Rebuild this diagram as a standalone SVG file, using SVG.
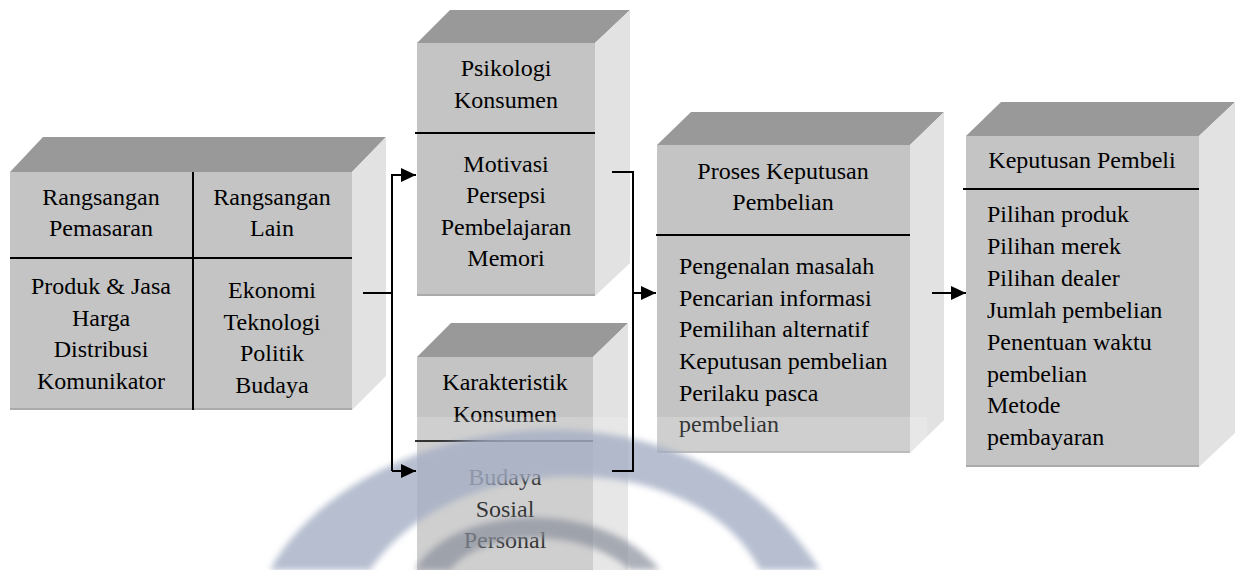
<svg xmlns="http://www.w3.org/2000/svg" width="1241" height="570" viewBox="0 0 1241 570">
<style>
.front{fill:#c4c4c4}
.top{fill:#999999}
.side{fill:#e2e2e2}
.edge{stroke:#aaaaaa;stroke-width:2}
.t{font-size:24px;fill:#000}
.c{text-anchor:middle}
.dv{stroke:#000;stroke-width:2}
.conn{stroke:#000;stroke-width:2;fill:none}
</style>
<defs>
<marker id="arr" viewBox="0 0 15 14" refX="15" refY="7" markerWidth="15" markerHeight="14" markerUnits="userSpaceOnUse" orient="auto">
<path d="M0,0 L15,7 L0,14 z" fill="#000"/>
</marker>
<clipPath id="wmclip"><rect x="193" y="417" width="734" height="153"/></clipPath>
<filter id="soft" x="-20%" y="-20%" width="140%" height="140%"><feGaussianBlur stdDeviation="3"/></filter>
</defs>
<rect width="1241" height="570" fill="#fff"/>

<g font-family="Liberation Serif, Tinos, Times New Roman, DejaVu Serif, serif">
<g id="rangsangan">
<polygon class="top" points="10,172 43,137 386,137 352,172"/>
<polygon class="side" points="352,172 386,137 386,376 352,410"/>
<rect class="front" x="10" y="172" width="342" height="238"/>
<line class="edge" x1="10" y1="409" x2="352" y2="409"/>
<line class="dv" x1="193" y1="172" x2="193" y2="410"/>
<line class="dv" x1="10" y1="258" x2="352" y2="258"/>
<text class="t c" x="101" y="205">Rangsangan</text>
<text class="t c" x="101" y="236">Pemasaran</text>
<text class="t c" x="272" y="205">Rangsangan</text>
<text class="t c" x="272" y="236">Lain</text>
<text class="t c" x="101" y="294">Produk &amp; Jasa</text>
<text class="t c" x="101" y="326">Harga</text>
<text class="t c" x="101" y="357">Distribusi</text>
<text class="t c" x="101" y="389">Komunikator</text>
<text class="t c" x="272" y="298">Ekonomi</text>
<text class="t c" x="272" y="330">Teknologi</text>
<text class="t c" x="272" y="361">Politik</text>
<text class="t c" x="272" y="393">Budaya</text>
</g>

<g id="psikologi">
<polygon class="top" points="417,43 450,10 630,10 595,43"/>
<polygon class="side" points="595,43 630,10 630,263 595,296"/>
<rect class="front" x="417" y="43" width="178" height="253"/>
<line class="edge" x1="417" y1="295" x2="595" y2="295"/>
<line class="dv" x1="415" y1="133" x2="595" y2="133"/>
<text class="t c" x="506" y="76">Psikologi</text>
<text class="t c" x="506" y="108">Konsumen</text>
<text class="t c" x="506" y="172">Motivasi</text>
<text class="t c" x="506" y="203">Persepsi</text>
<text class="t c" x="506" y="235">Pembelajaran</text>
<text class="t c" x="506" y="266">Memori</text>
</g>

<g id="karakteristik">
<polygon class="top" points="417,357 451,323 628,323 593,357"/>
<polygon class="side" points="593,357 628,323 628,580 593,580"/>
<rect class="front" x="417" y="357" width="176" height="223"/>
<line class="dv" x1="415" y1="441" x2="593" y2="441"/>
<text class="t c" x="505" y="390">Karakteristik</text>
<text class="t c" x="505" y="422">Konsumen</text>
<text class="t c" x="505" y="485">Budaya</text>
<text class="t c" x="505" y="517">Sosial</text>
<text class="t c" x="505" y="548">Personal</text>
</g>

<g id="proses">
<polygon class="top" points="657,145 691,112 944,112 910,145"/>
<polygon class="side" points="910,145 944,112 944,420 910,453"/>
<rect class="front" x="657" y="145" width="253" height="308"/>
<line class="edge" x1="657" y1="452" x2="910" y2="452"/>
<line class="dv" x1="656" y1="235" x2="910" y2="235"/>
<text class="t c" x="783" y="179">Proses Keputusan</text>
<text class="t c" x="783" y="210">Pembelian</text>
<text class="t" x="679" y="274">Pengenalan masalah</text>
<text class="t" x="679" y="306">Pencarian informasi</text>
<text class="t" x="679" y="337">Pemilihan alternatif</text>
<text class="t" x="679" y="369">Keputusan pembelian</text>
<text class="t" x="679" y="401">Perilaku pasca</text>
<text class="t" x="679" y="432">pembelian</text>
</g>

<g id="keputusan">
<polygon class="top" points="966,136 1001,102 1235,102 1199,136"/>
<polygon class="side" points="1199,136 1235,102 1235,433 1199,467"/>
<rect class="front" x="966" y="136" width="233" height="331"/>
<line class="edge" x1="966" y1="466" x2="1199" y2="466"/>
<line class="dv" x1="963" y1="189" x2="1199" y2="189"/>
<text class="t c" x="1082" y="168">Keputusan Pembeli</text>
<text class="t" x="987" y="222">Pilihan produk</text>
<text class="t" x="987" y="254">Pilihan merek</text>
<text class="t" x="987" y="286">Pilihan dealer</text>
<text class="t" x="987" y="318">Jumlah pembelian</text>
<text class="t" x="987" y="350">Penentuan waktu</text>
<text class="t" x="987" y="382">pembelian</text>
<text class="t" x="987" y="413">Metode</text>
<text class="t" x="987" y="445">pembayaran</text>
</g>
</g>

<g id="watermark" clip-path="url(#wmclip)">
<rect x="193" y="417" width="734" height="153" fill="#fff" opacity="0.2"/>
<path d="M270,570 C350,420 680,350 820,570 L760,570 C700,450 460,440 370,570 Z" fill="#a4aec4" opacity="0.8" filter="url(#soft)"/>
<path d="M415,570 C450,505 600,495 660,570 L630,570 C580,525 480,530 450,570 Z" fill="#8a909c" opacity="0.7" filter="url(#soft)"/>
</g>

<g id="connectors">
<path class="conn" d="M363,293 H392"/>
<path class="conn" d="M392,471 V175 H416" marker-end="url(#arr)"/>
<path class="conn" d="M392,471 H416" marker-end="url(#arr)"/>
<path class="conn" d="M612,172 H633 V471 H612"/>
<path class="conn" d="M633,293 H656" marker-end="url(#arr)"/>
<path class="conn" d="M932,293 H966" marker-end="url(#arr)"/>
</g>
</svg>
